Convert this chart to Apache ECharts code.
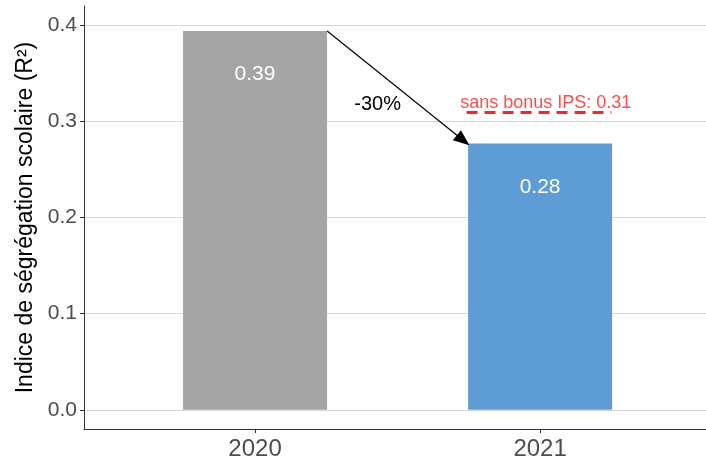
<!DOCTYPE html>
<html>
<head>
<meta charset="utf-8">
<script src="https://cdn.jsdelivr.net/npm/echarts@6/dist/echarts.min.js"></script>
<style>
  html, body { margin: 0; padding: 0; background: #fff; }
  #main { width: 706px; height: 461px; }
</style>
</head>
<body>
<div id="main"></div>
<script>
var categories = ["2020", "2021"];
var values = [0.394, 0.277];
var barColors = ["#a5a5a5", "#5d9cd4"];
var yTicks = [0.0, 0.1, 0.2, 0.3, 0.4];
var sansBonus = 0.309;

var font = "Liberation Sans, Arial, sans-serif";
var change = Math.round((values[1] / values[0] - 1) * 100);

var myChart = echarts.init(document.getElementById("main"));

var option = {
  backgroundColor: "#fff",
  animation: false,
  grid: { left: 84, right: 0, top: 6, bottom: 32, outerBoundsMode: "none" },
  xAxis: {
    type: "value",
    min: 0.4,
    max: 2.582,
    axisLine: { show: true, onZero: false, lineStyle: { color: "#333", width: 1 } },
    axisTick: { show: true, customValues: [1, 2], length: 4, lineStyle: { color: "#333" } },
    axisLabel: {
      customValues: [1, 2],
      formatter: function (v) { return categories[Math.round(v) - 1]; },
      color: "#4d4d4d", fontSize: 24, fontFamily: font, margin: 8
    },
    splitLine: { show: false }
  },
  yAxis: {
    type: "value",
    min: -0.02,
    max: 0.42,
    name: "Indice de ségrégation scolaire (R²)",
    nameLocation: "middle",
    nameGap: 45,
    nameTextStyle: { color: "#000", fontSize: 23, fontFamily: font },
    axisLine: { show: true, onZero: false, lineStyle: { color: "#333", width: 1 } },
    axisTick: { show: true, customValues: yTicks, length: 4, lineStyle: { color: "#333" } },
    axisLabel: {
      customValues: yTicks,
      formatter: function (v) { return v.toFixed(1); },
      color: "#4d4d4d", fontSize: 21, fontFamily: font, margin: 7
    },
    splitLine: { show: true, lineStyle: { color: "#d6d6d6", width: 1 } }
  },
  series: [
    {
      type: "bar",
      barWidth: 144,
      data: values.map(function (v, i) {
        return { value: [i + 1, v], itemStyle: { color: barColors[i] } };
      }),
      label: {
        show: true,
        position: "insideTop",
        distance: 33,
        color: "#fff",
        fontSize: 21,
        fontFamily: font,
        formatter: function (p) { return p.value[1].toFixed(2); }
      },
      markLine: {
        silent: true,
        animation: false,
        symbol: ["none", "none"],
        label: { show: false },
        data: [
          [
            { coord: [1.253, values[0]], symbol: "none",
              lineStyle: { color: "#000", width: 1.2, type: "solid" } },
            { coord: [1.73, 0.2803], symbol: "triangle", symbolSize: [13, 16] }
          ],
          [
            { coord: [1.742, sansBonus], symbol: "none",
              lineStyle: { color: "#ff2424", width: 3, type: [11, 7] } },
            { coord: [2.25, sansBonus], symbol: "none" }
          ]
        ]
      },
      markPoint: {
        silent: true,
        symbol: "circle",
        symbolSize: 0,
        data: [
          {
            coord: [1.43, 0.318],
            label: { show: true, formatter: change + "%", color: "#000",
              fontSize: 20, fontFamily: font, position: "inside" }
          },
          {
            coord: [2.02, 0.319],
            label: { show: true, formatter: "sans bonus IPS: " + sansBonus.toFixed(2),
              color: "#ff4d4d", fontSize: 18, fontFamily: font, position: "inside" }
          }
        ]
      }
    }
  ]
};

myChart.setOption(option);
</script>
</body>
</html>
